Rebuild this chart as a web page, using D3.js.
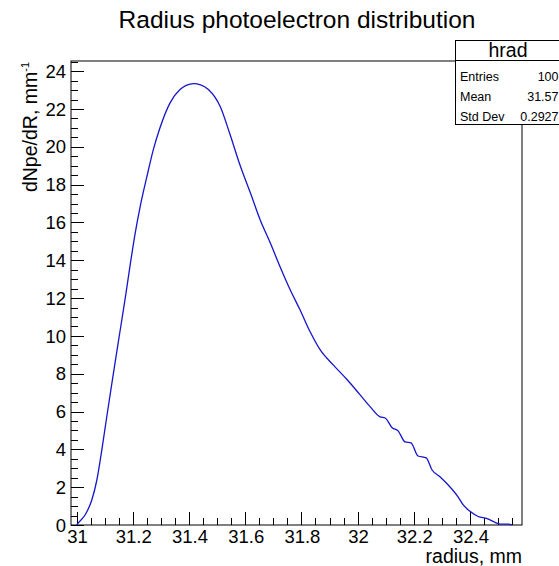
<!DOCTYPE html>
<html>
<head>
<meta charset="utf-8">
<script src="https://cdn.jsdelivr.net/npm/d3@7"></script>
<style>
  body { margin: 0; background: white; }
  svg { display: block; font-family: "Liberation Sans", Arial, sans-serif; }
</style>
</head>
<body>
<div id="chart"></div>
<script>
// values
const radius = [31.000, 31.006, 31.030, 31.054, 31.072, 31.090, 31.107, 31.125, 31.137, 31.155,
  31.173, 31.190, 31.208, 31.226, 31.250, 31.273, 31.297, 31.333, 31.368, 31.390, 31.416,
  31.441, 31.469, 31.511, 31.546, 31.582, 31.618, 31.653, 31.689, 31.724, 31.760, 31.795,
  31.831, 31.867, 31.913, 31.963, 32.009, 32.045, 32.080, 32.098, 32.123, 32.144, 32.169,
  32.190, 32.215, 32.244, 32.265, 32.294, 32.329, 32.358, 32.376, 32.401, 32.429, 32.461,
  32.482, 32.507, 32.536, 32.550];
const dNdR = [0, 0.11, 0.53, 1.32, 2.38, 4.0, 5.7, 7.45, 8.6, 10.3,
  12.0, 13.7, 15.4, 16.83, 18.42, 19.85, 21.02, 22.34, 23.03, 23.25, 23.34,
  23.28, 23.03, 22.13, 20.65, 19.01, 17.58, 16.15, 14.93, 13.66, 12.44, 11.38,
  10.22, 9.26, 8.47, 7.68, 6.88, 6.25, 5.72, 5.66, 5.14, 4.98, 4.39,
  4.34, 3.65, 3.55, 2.91, 2.54, 2.01, 1.48, 1.06, 0.71, 0.45, 0.34,
  0.19, 0.05, 0.05, 0];

const xTicks = [31, 31.2, 31.4, 31.6, 31.8, 32, 32.2, 32.4];
const yTicks = [0, 2, 4, 6, 8, 10, 12, 14, 16, 18, 20, 22, 24];

const statNames = ['Entries', 'Mean', 'Std Dev'];
const statValues = ['100', '31.57', '0.2927'];

const W = 559, H = 566;
const frame = {left: 71, top: 61, right: 522, bottom: 525};

var svg = d3.select('#chart').append('svg')
  .attr('width', W)
  .attr('height', H);

var x = d3.scaleLinear().domain([30.98, 32.585]).range([frame.left, frame.right]);
var y = d3.scaleLinear().domain([0, 24.54]).range([frame.bottom, frame.top]);

// frame
svg.append('rect')
  .attr('x', frame.left).attr('y', frame.top)
  .attr('width', frame.right - frame.left)
  .attr('height', frame.bottom - frame.top)
  .attr('fill', 'none').attr('stroke', 'black').attr('stroke-width', 1);

// x axis ticks (inward, ROOT style)
var xMinor = d3.range(30.95, 32.6, 0.05).filter(d => d > 30.981 && d < 32.584);
var gx = svg.append('g').attr('stroke', 'black').attr('stroke-width', 1);
gx.selectAll('line.minor')
  .data(xMinor)
  .enter().append('line')
  .attr('x1', d => Math.round(x(d)) + 0.5).attr('x2', d => Math.round(x(d)) + 0.5)
  .attr('y1', frame.bottom).attr('y2', frame.bottom - 7);
gx.selectAll('line.major')
  .data(xTicks)
  .enter().append('line')
  .attr('x1', d => Math.round(x(d)) + 0.5).attr('x2', d => Math.round(x(d)) + 0.5)
  .attr('y1', frame.bottom).attr('y2', frame.bottom - 13);

svg.append('g').selectAll('text')
  .data(xTicks)
  .enter().append('text')
  .attr('x', d => x(d) + 1)
  .attr('y', 542.5)
  .attr('text-anchor', 'middle')
  .attr('font-size', 18.5)
  .text(d => d3.format('~g')(d));

// y axis ticks
var yMinor = d3.range(0, 24.6, 0.5);
var gy = svg.append('g').attr('stroke', 'black').attr('stroke-width', 1);
gy.selectAll('line.minor')
  .data(yMinor)
  .enter().append('line')
  .attr('x1', frame.left).attr('x2', frame.left + 7)
  .attr('y1', d => Math.round(y(d)) + 0.5).attr('y2', d => Math.round(y(d)) + 0.5);
gy.selectAll('line.major')
  .data(yTicks)
  .enter().append('line')
  .attr('x1', frame.left).attr('x2', frame.left + 13)
  .attr('y1', d => Math.round(y(d)) + 0.5).attr('y2', d => Math.round(y(d)) + 0.5);

svg.append('g').selectAll('text')
  .data(yTicks)
  .enter().append('text')
  .attr('x', 66)
  .attr('y', d => y(d) + 6.6)
  .attr('text-anchor', 'end')
  .attr('font-size', 18.5)
  .text(d => d);

// the curve
var line = d3.line()
  .x((d, i) => x(radius[i]))
  .y(d => y(d))
  .curve(d3.curveMonotoneX);

svg.append('path')
  .datum(dNdR)
  .attr('d', line)
  .attr('fill', 'none')
  .attr('stroke', '#1515cc')
  .attr('stroke-width', 1.3);

// titles
svg.append('text')
  .attr('x', 297).attr('y', 28)
  .attr('text-anchor', 'middle')
  .attr('font-size', 24.5)
  .text('Radius photoelectron distribution');

svg.append('text')
  .attr('x', 522).attr('y', 563)
  .attr('text-anchor', 'end')
  .attr('font-size', 19.5)
  .text('radius, mm');

var ylab = svg.append('text')
  .attr('transform', 'translate(37,62) rotate(-90)')
  .attr('text-anchor', 'end')
  .attr('font-size', 19.5);
ylab.append('tspan').text('dNpe/dR, mm');
ylab.append('tspan').attr('font-size', 11).attr('dy', -8).text('-1');

// stats box
var stats = svg.append('g');
stats.append('rect')
  .attr('x', 455.5).attr('y', 40.5)
  .attr('width', 120).attr('height', 84)
  .attr('fill', 'white').attr('stroke', 'black').attr('stroke-width', 1);
stats.append('line')
  .attr('x1', 455.5).attr('x2', 575)
  .attr('y1', 60.5).attr('y2', 60.5)
  .attr('stroke', 'black');
stats.append('text')
  .attr('x', 508).attr('y', 57)
  .attr('text-anchor', 'middle')
  .attr('font-size', 19.5)
  .text('hrad');

var rows = stats.selectAll('g.row')
  .data(statNames)
  .enter().append('g')
  .attr('transform', (d, i) => `translate(0, ${80.5 + 20.3 * i})`);
rows.append('text')
  .attr('x', 460).attr('y', 0)
  .attr('font-size', 12.5)
  .text(d => d);
rows.append('text')
  .attr('x', 558.5).attr('y', 0)
  .attr('text-anchor', 'end')
  .attr('font-size', 12.5)
  .text((d, i) => statValues[i]);
</script>
</body>
</html>
